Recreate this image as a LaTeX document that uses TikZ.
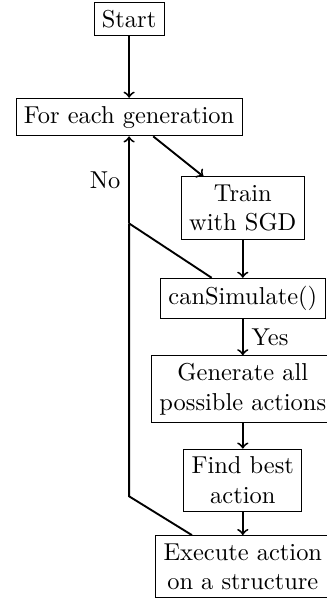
\documentclass[tikz,border=0pt]{standalone}
\usepackage{tikz}
\usetikzlibrary{arrows}

\begin{document}
\begin{tikzpicture}[font=\fontsize{10.4}{12.5}\selectfont]
\tikzstyle{fleche}=[->,thick]
\tikzset{etape/.style={draw,align=center}}
\useasboundingbox (0,0) rectangle (4.875,-9.03);
\node [etape] (start) at (1.93,-0.28) {Start};
\node [etape] (gen) at (1.93,-1.75) {For each generation};
\node [etape] (train) at (3.63,-3.11) {Train\\with SGD};
\node [etape] (sim) at (3.63,-4.46) {canSimulate()};
\node [etape] (actions) at (3.63,-5.82) {Generate all\\possible actions};
\node [etape] (best) at (3.63,-7.18) {Find best\\action};
\node [etape] (exec) at (3.63,-8.47) {Execute action\\on a structure};
\coordinate (retour1) at (1.93,-3.34);
\coordinate (retour2) at (1.93,-7.42);
\draw [fleche] (start) -- (gen);
\draw [fleche] (gen) -- (train);
\draw [fleche] (train) -- (sim);
\draw [fleche] (sim) -- node [right] {Yes} (actions);
\draw [fleche] (actions) -- (best);
\draw [fleche] (best) -- (exec);
\draw [thick] (sim) -- (retour1);
\draw [thick] (exec) -- (retour2) -- (retour1);
\draw [fleche] (retour1) -- node [left] {No} (gen);
\end{tikzpicture}
\end{document}
